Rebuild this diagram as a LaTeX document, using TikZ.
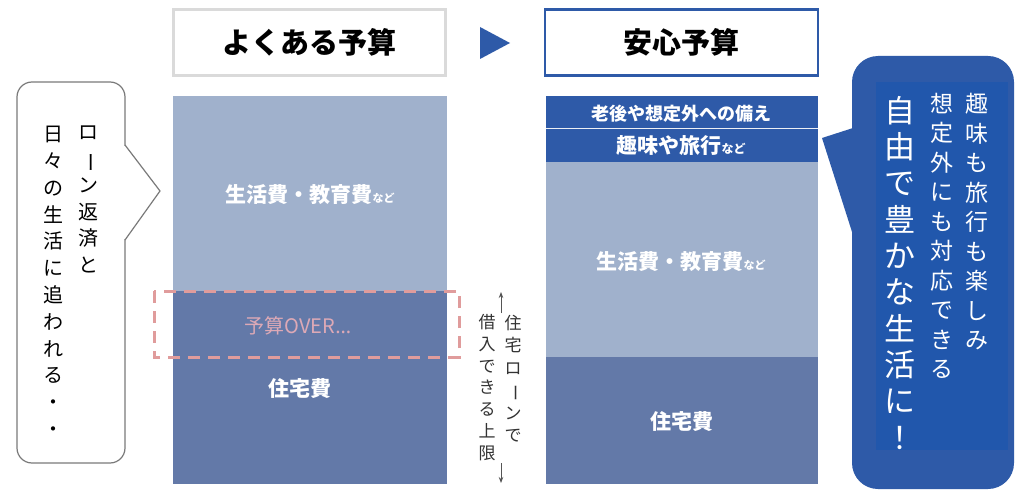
\documentclass[tikz,border=0pt]{standalone}
\usepackage{fontspec}
\usepackage{graphicx}
\setmainfont{Noto Sans CJK JP}
\newfontfamily\latinfont{Noto Sans}
\usetikzlibrary{arrows.meta}
\definecolor{lightbar}{HTML}{A0B1CC}
\definecolor{darkbar}{HTML}{6379A8}
\definecolor{deepblue}{HTML}{2E5AA8}
\definecolor{innerblue}{HTML}{2157AC}
\definecolor{titlegrey}{HTML}{DADADA}
\definecolor{dashpink}{HTML}{E09C9C}
\definecolor{overpink}{HTML}{DDA9B6}
\definecolor{bubbleline}{HTML}{7A7A7A}
\definecolor{arrowgrey}{HTML}{555555}
\newcommand{\vlong}{\rotatebox[origin=c]{-90}{ー}}
\newcommand{\smallnado}[1]{{\fontsize{#1}{#1}\selectfont など}}
\tikzset{
  titlebox/.style={line width=2.6pt, minimum width=272pt, minimum height=66pt, inner sep=0pt, font=\bfseries\fontsize{29}{32}\selectfont, text=black},
  barlabel/.style={text=white, inner sep=0pt, font=\bfseries\fontsize{21}{24}\selectfont},
  vcol/.style={align=center, inner sep=0pt, anchor=north},
}
\begin{document}
\begin{tikzpicture}[x=1pt,y=-1pt]
\useasboundingbox (0,0) rectangle (1024,494);
\fill[white] (0,0) rectangle (1024,494);

% titles
\node[titlebox, draw=titlegrey] (t1) at (309.5,42.5) {よくある予算};
\node[titlebox, draw=deepblue, line width=2.2pt, minimum width=273pt] (t2) at (681.5,42.5) {安心予算};
\fill[deepblue] (480,27) -- (510,43) -- (480,59) -- cycle;

% left bar
\fill[lightbar] (173,96) rectangle (447,291);
\fill[darkbar] (173,291) rectangle (447,484);
\node[barlabel] (l1) at (310,195) {生活費・教育費\smallnado{11}};
\node[barlabel] (l2) at (300,389) {住宅費};
\draw[dashpink, line width=3pt, dash pattern=on 12pt off 8pt] (154,291) rectangle (459,357);
\node[inner sep=0pt, text=overpink, font=\fontsize{20}{24}\selectfont] (over) at (298,326) {予算OVER{\latinfont …}};

% right bar
\fill[deepblue] (546,96) rectangle (818,162);
\draw[white!80!lightbar, line width=1pt] (546,128.5) -- (818,128.5);
\fill[lightbar] (546,162) rectangle (818,357);
\fill[darkbar] (546,357) rectangle (818,484);
\node[barlabel, font=\bfseries\fontsize{18}{20}\selectfont] (r1) at (681,114) {老後や想定外への備え};
\node[barlabel] (r2) at (681,146) {趣味や旅行\smallnado{12}};
\node[barlabel] (r3) at (681,262) {生活費・教育費\smallnado{11}};
\node[barlabel] (r4) at (682,422) {住宅費};

% loan limit arrow
\coordinate (a1) at (501,313);
\coordinate (a2) at (501,292);
\coordinate (a3) at (501,463);
\coordinate (a4) at (501,483);
\draw[arrowgrey, line width=0.8pt, -{Stealth[length=6pt,width=4.5pt]}] (a1) -- (a2);
\draw[arrowgrey, line width=0.8pt, -{Stealth[length=6pt,width=4.5pt]}] (a3) -- (a4);
\node[vcol, text=arrowgrey!60!black, font=\fontsize{17}{22.4}\selectfont] (lim1) at (513,315) {住\\宅\\ロ\\\vlong\\ン\\で};
\node[vcol, text=arrowgrey!60!black, font=\fontsize{17}{21.8}\selectfont] (lim2) at (487,314) {借\\入\\で\\き\\る\\上\\限};

% left speech bubble
\draw[bubbleline, line width=1.2pt, fill=white, rounded corners=15pt] (17,82) rectangle (125,463);
\fill[white] (123,146) -- (126,146) -- (160,191) -- (126,239) -- (123,239) -- cycle;
\draw[bubbleline, line width=1.2pt, line join=miter] (125,145) -- (160,191) -- (125,240);
\node[vcol, font=\fontsize{20}{26.5}\selectfont] (q1) at (88,126) {ロ\\\vlong\\ン\\返\\済\\と};
\node[vcol, font=\fontsize{20}{26.8}\selectfont] (q2) at (53,126) {日\\々\\の\\生\\活\\に\\追\\わ\\れ\\る\\・\\・};

% right speech bubble
\fill[deepblue, rounded corners=26pt] (852,56) rectangle (1014,489);
\fill[deepblue] (853,128) -- (822,138) -- (853,235) -- cycle;
\fill[innerblue] (876,82) rectangle (1008,450);
\node[vcol, text=white, font=\fontsize{23}{29.5}\selectfont] (p1) at (977,93) {趣\\味\\も\\旅\\行\\も\\楽\\し\\み};
\node[vcol, text=white, font=\fontsize{23}{29.5}\selectfont] (p2) at (942,93) {想\\定\\外\\に\\も\\対\\応\\で\\き\\る};
\node[vcol, text=white, font=\fontsize{31}{36.3}\selectfont] (p3) at (900,96) {自\\由\\で\\豊\\か\\な\\生\\活\\に\\！};
\end{tikzpicture}
\end{document}
